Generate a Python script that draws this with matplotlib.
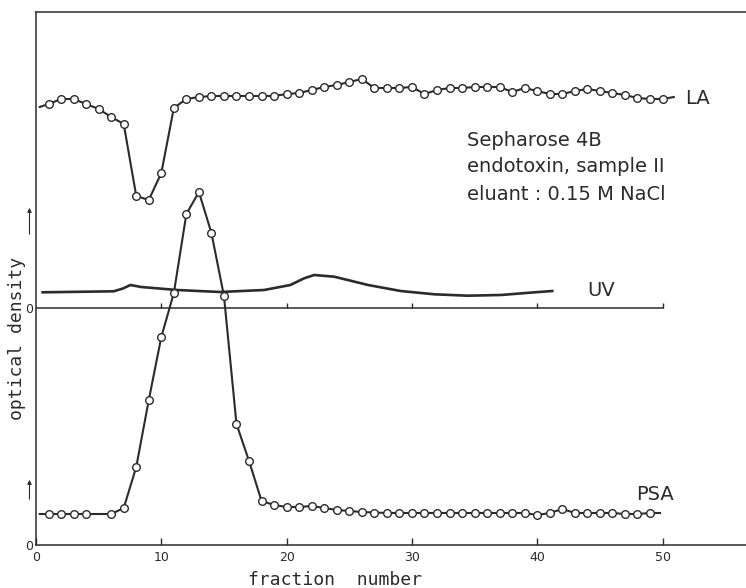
import numpy as np
import matplotlib
matplotlib.use("Agg")
import matplotlib.pyplot as plt

# fraction numbers and readings (arbitrary OD units)
la_x = np.arange(1, 51)
la_y = [4.41, 4.46, 4.46, 4.41, 4.36, 4.28, 4.21, 3.49, 3.45, 3.72,
        4.37, 4.46, 4.48, 4.49, 4.49, 4.49, 4.49, 4.49, 4.49, 4.51,
        4.52, 4.55, 4.58, 4.60, 4.63, 4.66, 4.57, 4.57, 4.57, 4.58,
        4.51, 4.55, 4.57, 4.57, 4.58, 4.58, 4.58, 4.53, 4.57, 4.54,
        4.51, 4.51, 4.54, 4.56, 4.54, 4.52, 4.50, 4.47, 4.46, 4.46]
la_start = (0.3, 4.38)
la_end = (50.9, 4.48)

psa_x = [1, 2, 3, 4, 6, 7, 8, 9, 10, 11, 12, 13, 14, 15, 16, 17, 18, 19, 20,
         21, 22, 23, 24, 25, 26, 27, 28, 29, 30, 31, 32, 33, 34, 35, 36, 37,
         38, 39, 40, 41, 42, 43, 44, 45, 46, 47, 48, 49]
psa_y = [0.31, 0.31, 0.31, 0.31, 0.31, 0.37, 0.78, 1.45, 2.08, 2.52, 3.31,
         3.53, 3.12, 2.49, 1.21, 0.84, 0.44, 0.40, 0.38, 0.38, 0.39, 0.37,
         0.35, 0.34, 0.33, 0.325, 0.32, 0.32, 0.32, 0.32, 0.32, 0.32, 0.32,
         0.32, 0.32, 0.32, 0.32, 0.32, 0.30, 0.32, 0.36, 0.32, 0.32, 0.32,
         0.32, 0.31, 0.31, 0.32]
psa_start = (0.3, 0.31)
psa_end = (49.8, 0.32)

# UV recorder trace, relative to its own zero line
uv_x = [0.53, 6.2, 6.94, 7.53, 8.4, 11.25, 14.7, 18.2, 20.3, 21.4, 22.2,
        23.8, 26.5, 29.1, 31.8, 34.45, 37.1, 39.8, 41.2]
uv_y = [0.157, 0.167, 0.195, 0.23, 0.21, 0.18, 0.16, 0.18, 0.23, 0.297, 0.33,
        0.313, 0.23, 0.17, 0.137, 0.123, 0.13, 0.157, 0.17]
uv_zero = 2.37

xticks = [0, 10, 20, 30, 40, 50]
ink = "#2b2b2b"

fig = plt.figure(figsize=(7.46, 5.88), dpi=100)
ax = fig.add_axes([36 / 746, 43 / 588, 710 / 746, 533 / 588])
ax.set_xlim(0, 56.66)
ax.set_ylim(0, 5.33)

for s in ["top", "left", "bottom"]:
    ax.spines[s].set_color(ink)
    ax.spines[s].set_linewidth(1.1)
ax.spines["right"].set_visible(False)

ax.set_xticks(xticks)
ax.set_xticklabels([str(t) for t in xticks], fontsize=9, color=ink)
ax.set_yticks([0, uv_zero])
ax.set_yticklabels(["0", "0"], fontsize=9, color=ink)
ax.tick_params(axis="x", direction="in", length=5, width=1, color=ink, pad=4)
ax.tick_params(axis="y", length=0, pad=2)

# UV zero line with its own ticks
ax.plot([0, xticks[-1]], [uv_zero, uv_zero], color=ink, lw=1.1)
ax.vlines(xticks[1:], uv_zero, uv_zero + 0.05, color=ink, lw=1)

ax.plot(uv_x, uv_zero + np.array(uv_y), color=ink, lw=1.9)

ax.plot([la_start[0]] + list(la_x) + [la_end[0]],
        [la_start[1]] + la_y + [la_end[1]], color=ink, lw=1.5)
ax.plot(la_x, la_y, "o", ms=5.5, mfc="white", mec=ink, mew=1)

ax.plot([psa_start[0]] + psa_x + [psa_end[0]],
        [psa_start[1]] + psa_y + [psa_end[1]], color=ink, lw=1.5)
ax.plot(psa_x, psa_y, "o", ms=5.5, mfc="white", mec=ink, mew=1)

ax.text(51.8, 4.47, "LA", fontsize=14, color=ink, va="center")
ax.text(44.0, 2.55, "UV", fontsize=14, color=ink, va="center")
ax.text(47.9, 0.50, "PSA", fontsize=14, color=ink, va="center")

ax.text(34.4, 4.05, "Sepharose 4B", fontsize=14, color=ink, va="center")
ax.text(34.4, 3.79, "endotoxin, sample II", fontsize=14, color=ink, va="center")
ax.text(34.4, 3.51, "eluant : 0.15 M NaCl", fontsize=14, color=ink, va="center")

# small direction arrows left of the axis
for y0, y1 in [(3.08, 3.40), (0.43, 0.68)]:
    ax.annotate("", xy=(-0.52, y1), xytext=(-0.52, y0), annotation_clip=False,
                arrowprops=dict(arrowstyle="-|>", color=ink, lw=0.8,
                                mutation_scale=6))

fig.text(335 / 746, 1 - 580 / 588, "fraction  number", family="DejaVu Sans Mono",
         fontsize=13, color=ink, ha="center", va="center")
fig.text(17 / 746, 1 - 338 / 588, "optical density", family="DejaVu Sans Mono",
         fontsize=13, color=ink, ha="center", va="center", rotation=90)

fig.savefig("out.png", dpi=100, facecolor="white")
